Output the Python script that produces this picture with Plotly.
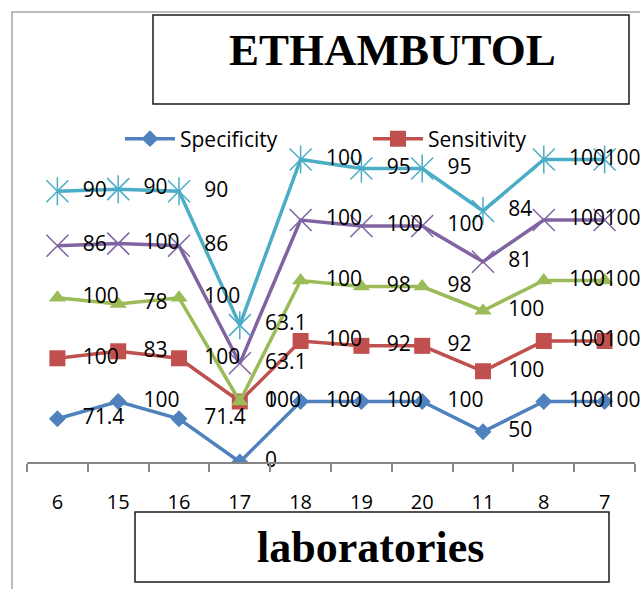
import numpy as np
import plotly.graph_objects as go

# ---- data ----
laboratories = ["6", "15", "16", "17", "18", "19", "20", "11", "8", "7"]
specificity = [71.4, 100, 71.4, 0, 100, 100, 100, 50, 100, 100]
sensitivity = [100, 83, 100, 100, 100, 92, 92, 100, 100, 100]
ppv = [100, 78, 100, 0, 100, 98, 98, 100, 100, 100]
npv = [86, 100, 86, 63.1, 100, 100, 100, 81, 100, 100]
accuracy = [90, 90, 90, 63.1, 100, 95, 95, 84, 100, 100]

series_names = ["Specificity", "Sensitivity", "PPV", "NPV", "Accuracy"]
series_values = [specificity, sensitivity, ppv, npv, accuracy]

# stacked line chart (Excel "stacked line with markers")
stacked = np.cumsum(np.array(series_values, dtype=float), axis=0)

# ---- geometry helpers (pixels -> paper) ----
W, H = 640, 589
L, R, T, B = 27, 5, 99, 127
PW, PH = W - L - R, H - T - B


def px_x(p):
    return (p - L) / PW


def px_y(p):
    return (H - B - p) / PH


colors = ["#4F81BD", "#C0504D", "#9BBB59", "#8064A2", "#4BACC6"]
LABEL_FONT = "Open Sans"

fig = go.Figure()

# Specificity
fig.add_trace(go.Scatter(
    x=laboratories, y=stacked[0], name=series_names[0], mode="lines+markers",
    line=dict(color=colors[0], width=3.5),
    marker=dict(symbol="diamond", size=13, color=colors[0]),
    legend="legend",
))
# Sensitivity
fig.add_trace(go.Scatter(
    x=laboratories, y=stacked[1], name=series_names[1], mode="lines+markers",
    line=dict(color=colors[1], width=3.5),
    marker=dict(symbol="square", size=16, color=colors[1]),
    legend="legend2",
))
# third series
fig.add_trace(go.Scatter(
    x=laboratories, y=stacked[2], name=series_names[2], mode="lines+markers",
    line=dict(color=colors[2], width=3.5),
    marker=dict(symbol="triangle-up", size=15, color=colors[2]),
    showlegend=False,
))
# fourth series
fig.add_trace(go.Scatter(
    x=laboratories, y=stacked[3], name=series_names[3], mode="lines+markers",
    line=dict(color=colors[3], width=3.5),
    marker=dict(symbol="x-thin-open", size=22, color=colors[3],
                line=dict(color=colors[3], width=1.5)),
    showlegend=False,
))
# fifth series (star marker = x + vertical stroke)
fig.add_trace(go.Scatter(
    x=laboratories, y=stacked[4], name=series_names[4], mode="lines+markers",
    line=dict(color=colors[4], width=3.5),
    marker=dict(symbol="x-thin-open", size=22, color=colors[4],
                line=dict(color=colors[4], width=1.5)),
    showlegend=False,
))
fig.add_trace(go.Scatter(
    x=laboratories, y=stacked[4], name=series_names[4], mode="markers",
    marker=dict(symbol="line-ns-open", size=20, color=colors[4],
                line=dict(color=colors[4], width=1.5)),
    showlegend=False, hoverinfo="skip",
))

# data labels (raw values, to the right of each point; the last one is
# pulled back inside the chart area as Excel does)
pad = "\u00a0" * 4 + "\u2009"
n = len(laboratories)
for vals, tot in zip(series_values, stacked):
    fig.add_trace(go.Scatter(
        x=laboratories, y=tot, mode="text",
        text=[(pad if i < n - 1 else "") + f"{v:g}" for i, v in enumerate(vals)],
        textposition="middle right",
        textfont=dict(family=LABEL_FONT, size=21, color="black"),
        showlegend=False, hoverinfo="skip", cliponaxis=False,
    ))

shapes = [
    # chart area border (cropped)
    dict(type="rect", xref="paper", yref="paper",
         x0=px_x(12), x1=px_x(700), y0=px_y(650), y1=px_y(12),
         line=dict(color="#A6A6A6", width=1.5), fillcolor="rgba(0,0,0,0)", layer="below"),
    # title box
    dict(type="rect", xref="paper", yref="paper",
         x0=px_x(153), x1=px_x(629), y0=px_y(104), y1=px_y(15),
         line=dict(color="#1a1a1a", width=1.5), fillcolor="white"),
    # axis title box
    dict(type="rect", xref="paper", yref="paper",
         x0=px_x(135), x1=px_x(609), y0=px_y(582), y1=px_y(512),
         line=dict(color="#1a1a1a", width=1.5), fillcolor="white"),
]

annotations = [
    dict(text="<b>ETHAMBUTOL</b>", xref="paper", yref="paper",
         x=px_x(392), y=px_y(50), xanchor="center", yanchor="middle",
         showarrow=False, font=dict(family="Liberation Serif", size=45, color="black")),
    dict(text="<b>laboratories</b>", xref="paper", yref="paper",
         x=px_x(370), y=px_y(547), xanchor="center", yanchor="middle",
         showarrow=False, font=dict(family="Liberation Serif", size=44, color="black")),
]

legend_common = dict(
    orientation="h", yanchor="middle", xanchor="left",
    font=dict(family=LABEL_FONT, size=21, color="black"),
    bgcolor="rgba(0,0,0,0)", borderwidth=0, itemwidth=50,
)

fig.update_layout(
    width=W, height=H,
    margin=dict(l=L, r=R, t=T, b=B, pad=0),
    paper_bgcolor="white", plot_bgcolor="white",
    showlegend=True,
    legend=dict(x=px_x(120), y=px_y(139), **legend_common),
    legend2=dict(x=px_x(368), y=px_y(139), **legend_common),
    xaxis=dict(
        type="category", range=[-0.5, 9.5],
        showline=True, linecolor="#868686", linewidth=1.5,
        ticks="outside", ticklen=8, tickcolor="#868686", tickwidth=1.5,
        tickson="boundaries", showgrid=False, zeroline=False,
        tickfont=dict(family=LABEL_FONT, size=20, color="black"),
        ticklabelstandoff=21,
    ),
    yaxis=dict(range=[0, 600], visible=False, showgrid=False, zeroline=False),
    shapes=shapes,
    annotations=annotations,
    hovermode=False,
)

fig.write_html(
    "out.html",
    config={"displayModeBar": False},
    post_script="document.body.style.margin='0';document.body.style.overflow='hidden';",
)
